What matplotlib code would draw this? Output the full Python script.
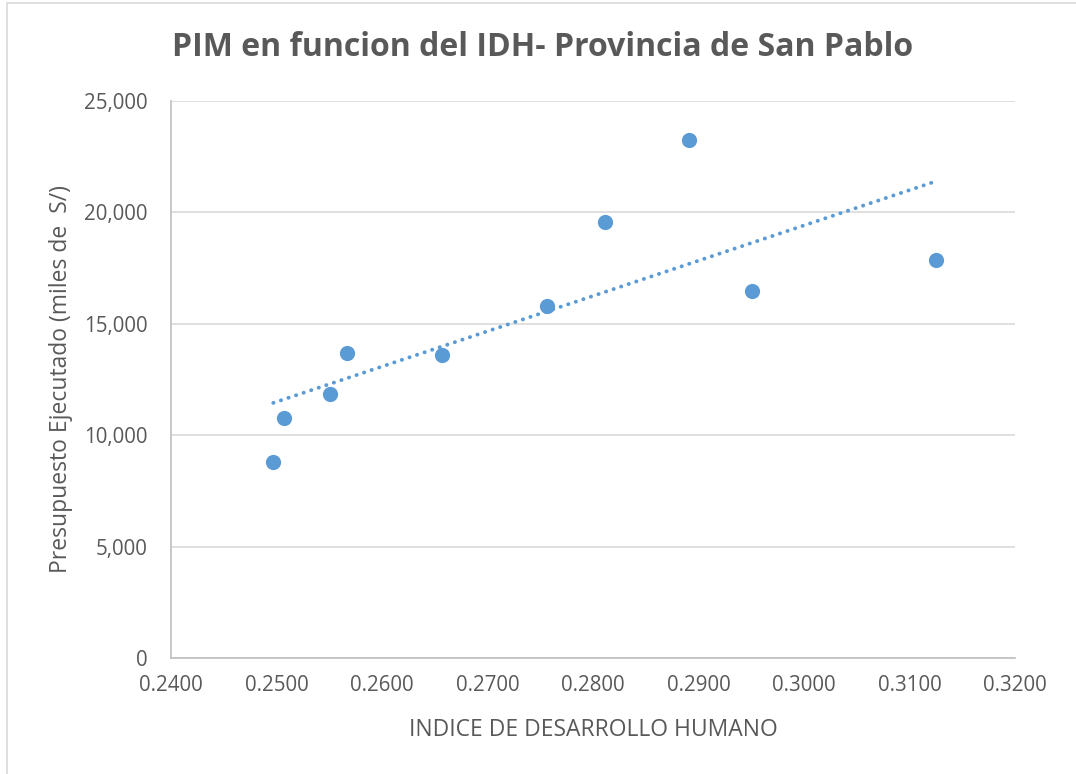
import numpy as np
import matplotlib
matplotlib.use("Agg")
import matplotlib.pyplot as plt
from matplotlib.patches import Rectangle
from matplotlib.ticker import FuncFormatter, MultipleLocator

idh = [0.2497, 0.2507, 0.2551, 0.2567, 0.2657, 0.2756, 0.2811, 0.2891, 0.2951, 0.3125]
presupuesto = [8800, 10790, 11830, 13710, 13580, 15780, 19560, 23250, 16460, 17850]

title = "PIM en funcion del IDH- Provincia de San Pablo"
xlabel = "INDICE DE DESARROLLO HUMANO"
ylabel = "Presupuesto Ejecutado (miles de  S/)"

text_color = "#595959"
blue = "#5b9bd5"

plt.rcParams["font.family"] = ["Open Sans", "DejaVu Sans"]

fig = plt.figure(figsize=(10.76, 7.74), dpi=100)
fig.patch.set_facecolor("white")
ax = fig.add_axes([0.1589, 0.1499, 0.9433 - 0.1589, 0.8695 - 0.1499])

# chart area border (Excel style)
fig.patches.append(Rectangle((7 / 1076, -0.01), 1.1, 1 - 3 / 774 + 0.01,
                             transform=fig.transFigure, fill=False,
                             edgecolor="#d9d9d9", linewidth=1.2))

ax.scatter(idh, presupuesto, s=120, color=blue, zorder=4, linewidths=0)

# linear trendline
coef = np.polyfit(idh, presupuesto, 1)
xs = np.array([min(idh), max(idh)])
ax.plot(xs, np.polyval(coef, xs), color=blue, linewidth=2.8,
        linestyle=(0, (0.05, 2.0)), dash_capstyle="round", zorder=3)

ax.set_xlim(0.24, 0.32)
ax.set_ylim(0, 25000)
ax.xaxis.set_major_locator(MultipleLocator(0.01))
ax.yaxis.set_major_locator(MultipleLocator(5000))
ax.xaxis.set_major_formatter(FuncFormatter(lambda v, p: f"{v:.4f}"))
ax.yaxis.set_major_formatter(FuncFormatter(lambda v, p: "0" if v == 0 else f"{v:,.0f}"))

ax.yaxis.grid(True, color="#d9d9d9", linewidth=1.2)
ax.set_axisbelow(True)
for side in ["top", "right"]:
    ax.spines[side].set_visible(False)
for side in ["left", "bottom"]:
    ax.spines[side].set_color("#bfbfbf")
    ax.spines[side].set_linewidth(1.2)

ax.tick_params(axis="both", length=0, labelsize=14.8, labelcolor=text_color)
ax.tick_params(axis="x", pad=12)
ax.tick_params(axis="y", pad=17)

ax.set_xlabel(xlabel, fontsize=16.5, color=text_color, labelpad=16)
ax.set_ylabel(ylabel, fontsize=16.5, color=text_color, labelpad=8)
fig.text(543 / 1076, 1 - 48 / 774, title, ha="center", va="center",
         fontsize=23, fontweight="bold", color=text_color)

plt.savefig("out.png", dpi=100, facecolor="white")
plt.close(fig)
